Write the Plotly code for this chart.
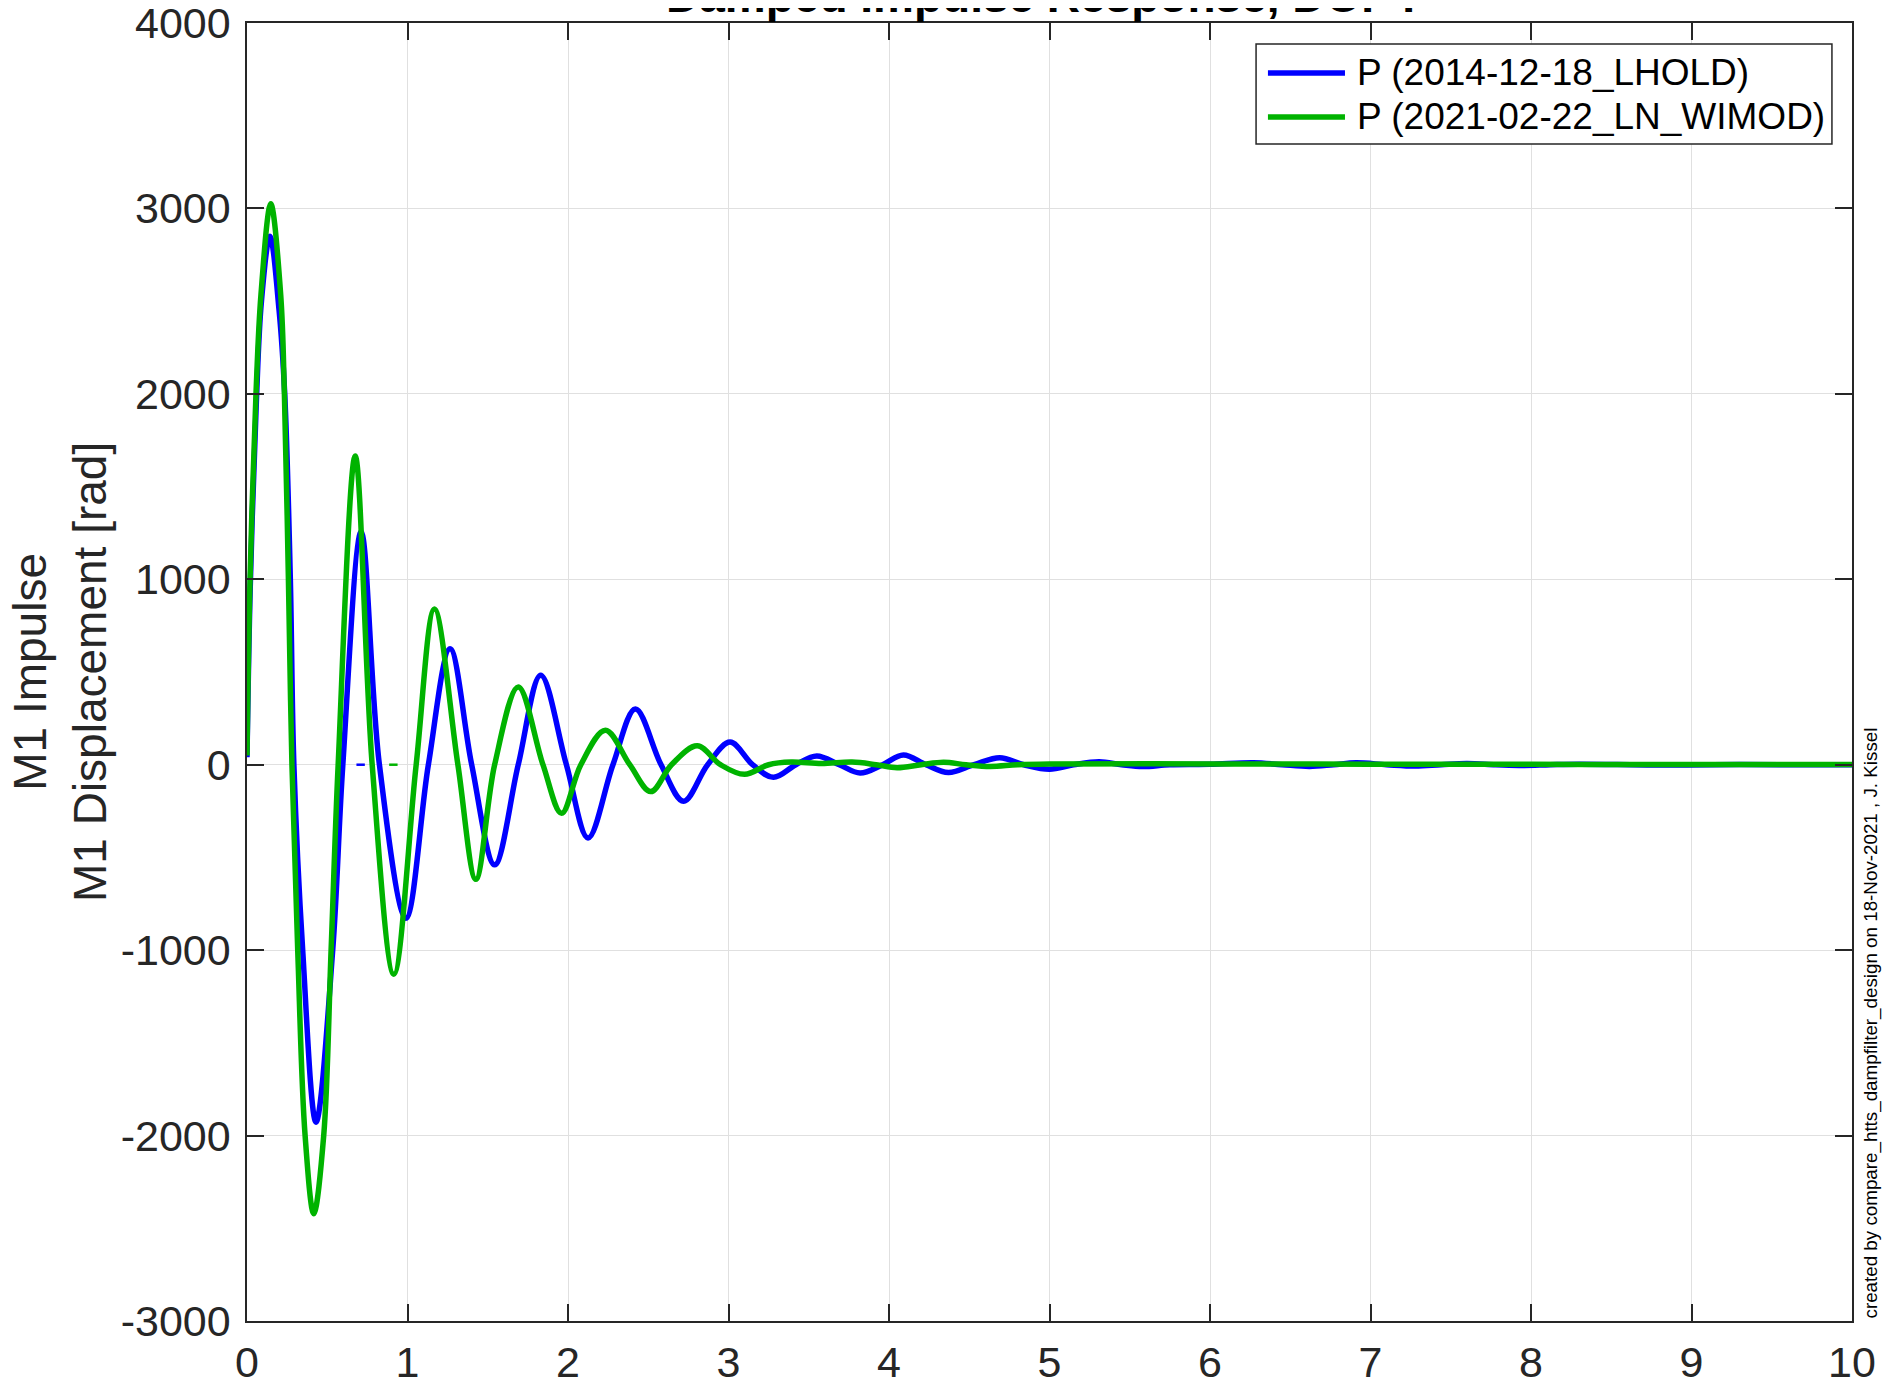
import plotly.graph_objects as go

# impulse response: time [s] and M1 P displacement [rad]
t_lhold = [0, 0.02, 0.058, 0.09, 0.143, 0.20, 0.235, 0.27, 0.292, 0.347, 0.43,
           0.534, 0.597, 0.711, 0.825, 0.99, 1.13, 1.265, 1.40,
           1.543, 1.69, 1.83, 1.99, 2.125, 2.28, 2.42, 2.58, 2.72, 2.87, 3.01,
           3.15, 3.28, 3.42, 3.55, 3.69, 3.82, 3.96, 4.09, 4.23, 4.37, 4.53,
           4.69, 4.84, 5.0, 5.15, 5.31, 5.45, 5.58, 5.75, 6.0, 6.27, 6.45, 6.62,
           6.77, 6.91, 7.1, 7.28, 7.44, 7.6, 7.78, 7.95, 8.12, 8.3, 8.8, 9.3,
           9.7, 10.0]
p_lhold = [40, 950, 1950, 2500, 2850, 2450, 2000, 1000, 0, -1000, -1928,
           -1000, 0, 1256, 0, -828, 0, 626, 0,
           -540, 0, 482, 0, -395, 0, 300, 0, -197, 0, 122,
           0, -68, 0, 47, 0, -45, 0, 53, 0, -42, 0,
           38, 0, -24, 0, 16, 0, -10, 0, 2, 11, 0, -9,
           0, 10, 0, -7, 0, 6, 0, -4, 0, 3, -2, 1,
           0, 0]

t_wimod = [0, 0.019, 0.056, 0.087, 0.148, 0.21, 0.233, 0.258, 0.28, 0.316,
           0.362, 0.416, 0.478, 0.524, 0.568, 0.674, 0.78, 0.915,
           1.054, 1.168, 1.314, 1.426, 1.543, 1.69, 1.844, 1.96, 2.08, 2.233,
           2.385, 2.515, 2.645, 2.805, 2.95, 3.10, 3.25, 3.39, 3.58, 3.77, 3.92,
           4.05, 4.2, 4.34, 4.48, 4.63, 4.8, 5.0, 6.0, 7.0, 8.0, 9.0, 10.0]
p_wimod = [50, 1000, 2000, 2534, 3025, 2534, 2000, 1000, 0, -1000,
           -2000, -2422, -2000, -1000, 0, 1665, 0, -1130,
           0, 840, 0, -618, 0, 419, 0, -262, 0, 186,
           0, -145, 0, 102, 0, -52, 0, 14, 6, 14, 0,
           -16, 0, 13, 0, -9, 0, 4, 4, 3, 2, 1, 1]

# the two tiny dashes sitting on the zero line
dash_t = [0.708, 0.912]
dash_p = [0, 0]

names = ['P (2014-12-18_LHOLD)', 'P (2021-02-22_LN_WIMOD)']
colors = ['#0000ff', '#00b300']

x_ticks = [0, 1, 2, 3, 4, 5, 6, 7, 8, 9, 10]
y_ticks = [-3000, -2000, -1000, 0, 1000, 2000, 3000, 4000]
y_labels = ['-3000', '-2000', '-1000', '0', '1000', '2000', '3000', '4000']

FONT = 'Liberation Sans, Arial, sans-serif'
AX = '#262626'

fig = go.Figure()
for t, p, c, n in [(t_lhold, p_lhold, colors[0], names[0]),
                   (t_wimod, p_wimod, colors[1], names[1])]:
    fig.add_trace(go.Scatter(x=t, y=p, mode='lines', name=n, showlegend=False,
                             line=dict(color=c, width=5.5, shape='spline', smoothing=1)))
for i in range(2):
    fig.add_trace(go.Scatter(x=[dash_t[i]], y=[dash_p[i]], mode='markers', showlegend=False,
                             marker=dict(symbol='line-ew-open', size=6, color=colors[i],
                                         line=dict(color=colors[i], width=2.5))))

axis_common = dict(showline=True, linecolor=AX, linewidth=1.5, mirror='ticks',
                   ticks='inside', ticklen=17, tickwidth=1.5, tickcolor=AX,
                   showgrid=True, gridcolor='#e0e0e0', gridwidth=1.3,
                   zeroline=False, automargin=False, ticklabeloverflow='allow',
                   tickfont=dict(family=FONT, size=43, color=AX))
fig.update_xaxes(range=[0, 10], tickvals=x_ticks, ticklabelstandoff=3, **axis_common)
fig.update_yaxes(range=[-3000, 4000], tickvals=y_ticks, ticktext=y_labels,
                 ticklabelstandoff=6, **axis_common)

# legend drawn by hand so the line samples match the original length
fig.add_shape(type='rect', xref='paper', yref='paper', x0=0.6287, x1=0.9875,
              y0=0.9068, y1=0.9838, line=dict(color=AX, width=1.5), fillcolor='white', layer='above')
for i, yy in enumerate([0.9615, 0.9276]):
    fig.add_shape(type='line', xref='paper', yref='paper', x0=0.6361, x1=0.6841,
                  y0=yy, y1=yy, line=dict(color=colors[i], width=5.5), layer='above')
    fig.add_annotation(xref='paper', yref='paper', x=0.6903, y=yy, text=names[i],
                       showarrow=False, xanchor='left', yanchor='middle',
                       font=dict(family=FONT, size=37, color='black'))

# title sits mostly above the page edge, as in the original
fig.add_annotation(xref='paper', yref='paper', x=0.5, y=1, yshift=-1,
                   text='<b>Damped Impulse Response, DOF P</b>', showarrow=False,
                   xanchor='center', yanchor='bottom',
                   font=dict(family=FONT, size=46, color='black'))
fig.add_annotation(xref='paper', yref='paper', x=0, y=0.5, xshift=-187,
                   text='M1 Impulse<br>M1 Displacement [rad]', showarrow=False,
                   textangle=-90, xanchor='center', yanchor='middle',
                   font=dict(family=FONT, size=46, color=AX))
fig.add_annotation(xref='paper', yref='paper', x=1, y=0, xshift=18,
                   text='created by compare_htts_dampfilter_design on 18-Nov-2021 , J. Kissel',
                   showarrow=False, textangle=-90, xanchor='center', yanchor='bottom',
                   font=dict(family=FONT, size=18.8, color='black'))

# the page body adds an 8 px margin, so the figure is that much smaller
fig.update_layout(width=1889, height=1378, plot_bgcolor='white', paper_bgcolor='white',
                  margin=dict(l=239, r=45, t=15, b=65), showlegend=False)

fig.write_html('out.html')
